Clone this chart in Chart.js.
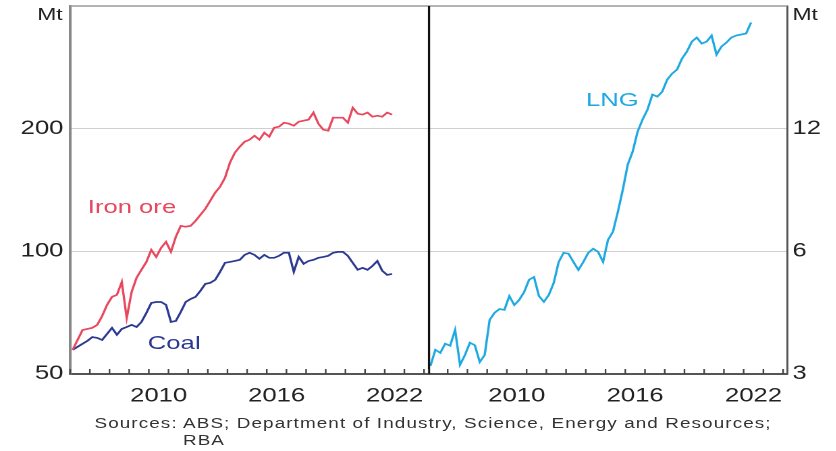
<!DOCTYPE html>
<html>
<head>
<meta charset="utf-8">
<script src="https://cdn.jsdelivr.net/npm/chart.js@4.4.0/dist/chart.umd.min.js"></script>
<style>
html, body { margin: 0; padding: 0; background: #fff; }
body { width: 836px; height: 451px; overflow: hidden; position: relative; }
/* the reference is stretched sideways, so the whole chart is too */
#wrap { position: absolute; left: 0; top: 0; width: 620px; height: 451px; transform: scaleX(1.35); transform-origin: 0 0; font-family: "Liberation Sans", Arial, sans-serif; color: #222; }
canvas { position: absolute; top: 0; }
#left { left: 0; }
#right { left: 317px; }
.lbl { position: absolute; font-size: 19px; line-height: 19px; white-space: nowrap; }
.note { position: absolute; font-size: 14px; line-height: 17px; white-space: nowrap; color: #333; letter-spacing: 0.8px; }
</style>
</head>
<body>
<div id="wrap">
  <canvas id="left" width="317" height="410"></canvas>
  <canvas id="right" width="302" height="410"></canvas>
  <div class="lbl" style="left:27.5px;top:6px;font-size:17px;line-height:17px">Mt</div>
  <div class="lbl" style="left:587px;top:6px;font-size:17px;line-height:17px">Mt</div>
  <div class="lbl" style="left:65px;top:197px;color:#e8475e">Iron ore</div>
  <div class="lbl" style="left:109.5px;top:333px;color:#2b3990">Coal</div>
  <div class="lbl" style="left:434px;top:90px;color:#1fa9e1">LNG</div>
  <div class="note" style="left:70px;top:415px">Sources: ABS; Department of Industry, Science, Energy and Resources;</div>
  <div class="note" style="left:135.5px;top:432px">RBA</div>
</div>
<script>
// Quarterly exports, Mt (log scales)
var firstQuarter = 2006.125;
var ironOre = [57.3, 60.6, 64.1, 64.5, 64.9, 66.0, 69.4, 73.9, 77.3, 78.2,
    84.1, 68.6, 79.5, 86.1, 90.1, 94.2, 100.8, 96.9, 102.0, 105.5,
    99.7, 108.6, 115.5, 114.9, 115.5, 118.8, 122.9, 127.2, 133.1, 139.3,
    144.1, 151.6, 165.0, 174.6, 180.6, 185.8, 187.9, 192.2, 187.9, 195.5,
    191.1, 201.1, 202.3, 206.9, 205.7, 203.4, 208.0, 209.2, 210.5, 219.0,
    205.7, 198.9, 197.7, 212.8, 212.8, 212.8, 206.9, 225.2, 217.7, 216.5,
    219.0, 214.0, 215.2, 214.0, 219.0, 216.5];
var coal = [57.3, 58.3, 59.3, 60.3, 61.6, 61.3, 60.6, 62.7, 64.9, 62.4,
    64.5, 65.2, 66.0, 65.2, 67.1, 70.6, 74.7, 75.1, 75.1, 73.9,
    67.1, 67.5, 71.0, 75.1, 76.4, 77.3, 80.0, 83.2, 83.7, 85.1,
    89.1, 93.7, 94.2, 94.7, 95.3, 98.0, 99.2, 98.0, 95.9, 98.0,
    96.4, 96.4, 97.5, 99.2, 99.2, 89.1, 96.9, 93.2, 94.7, 95.3,
    96.4, 96.9, 97.5, 99.2, 99.7, 99.7, 97.5, 93.7, 90.1, 91.1,
    90.1, 92.1, 94.7, 89.6, 87.5, 88.0];
var lng = [3.14, 3.44, 3.38, 3.56, 3.52, 3.85, 3.16, 3.34, 3.58, 3.53,
    3.21, 3.34, 4.07, 4.24, 4.33, 4.31, 4.66, 4.43, 4.56, 4.77,
    5.11, 5.19, 4.66, 4.51, 4.69, 5.02, 5.65, 5.95, 5.92, 5.65,
    5.40, 5.65, 5.95, 6.09, 5.98, 5.65, 6.40, 6.70, 7.50, 8.50,
    9.79, 10.54, 11.80, 12.63, 13.36, 14.55, 14.38, 14.79, 15.83, 16.38,
    16.76, 17.83, 18.56, 19.63, 20.08, 19.41, 19.63, 20.31, 18.24, 19.08,
    19.52, 20.08, 20.31, 20.43, 20.54, 21.86];
var yearLabels = [2010, 2016, 2022];
var leftTicks = [50, 100, 200];
var rightTicks = [3, 6, 12];

var quarters = [];
for (var i = 0; i < ironOre.length; i++) {
    quarters.push(firstQuarter + i * 0.25);
}
function toPoints(values) {
    return values.map(function (v, i) { return { x: quarters[i], y: v }; });
}

var FONT = { family: '"Liberation Sans", Arial, sans-serif', size: 19 };

// Top border, divider and the little year ticks that point into the panel
var framePlugin = {
    id: 'frame',
    afterDraw: function (chart, args, opts) {
        var ctx = chart.ctx;
        var area = chart.chartArea;
        var x = chart.scales.x;
        ctx.save();
        ctx.strokeStyle = '#999';
        ctx.lineWidth = 1.5;
        ctx.beginPath();
        ctx.moveTo(area.left, area.top);
        ctx.lineTo(area.right, area.top);
        ctx.stroke();
        if (opts.divider) {
            ctx.strokeStyle = '#111';
            ctx.lineWidth = 1.6;
            ctx.beginPath();
            ctx.moveTo(area.left + 0.8, area.top);
            ctx.lineTo(area.left + 0.8, area.bottom);
            ctx.stroke();
        }
        ctx.strokeStyle = '#444';
        ctx.lineWidth = 1.2;
        for (var yr = Math.ceil(x.min); yr <= x.max; yr++) {
            var px = x.getPixelForValue(yr);
            ctx.beginPath();
            ctx.moveTo(px, area.bottom);
            ctx.lineTo(px, area.bottom - 5);
            ctx.stroke();
        }
        ctx.restore();
    }
};

function xAxis() {
    return {
        type: 'linear',
        min: 2006,
        max: 2024.2,
        grid: { display: false, drawTicks: false },
        border: { display: true, color: '#555', width: 2 },
        afterBuildTicks: function (axis) {
            axis.ticks = yearLabels.map(function (v) { return { value: v }; });
        },
        afterFit: function (scale) {
            scale.height = 36;
            scale.paddingLeft = 0;
            scale.paddingRight = 0;
        },
        ticks: {
            font: FONT,
            color: '#222',
            padding: 11,
            labelOffset: 7.3,
            maxRotation: 0,
            autoSkip: false,
            callback: function (v) { return String(v); }
        }
    };
}

function yAxis(position, min, max, tickList, width) {
    return {
        type: 'logarithmic',
        position: position,
        min: min,
        max: max,
        grid: { color: '#d0d0d0', lineWidth: 1, drawTicks: false },
        border: { display: true, color: position === 'left' ? '#888' : '#555', width: position === 'left' ? 2 : 1.5 },
        afterBuildTicks: function (axis) {
            axis.ticks = tickList.map(function (v) { return { value: v }; });
        },
        afterFit: function (scale) {
            scale.width = width;
            scale.paddingTop = 0;
            scale.paddingBottom = 0;
        },
        ticks: {
            font: FONT,
            color: '#222',
            padding: position === 'left' ? 5 : 4,
            callback: function (v) { return String(v); }
        }
    };
}

function line(label, values, colour) {
    return {
        label: label,
        data: toPoints(values),
        borderColor: colour,
        borderWidth: 1.7,
        pointRadius: 0,
        tension: 0,
        fill: false
    };
}

new Chart(document.getElementById('left'), {
    type: 'line',
    data: {
        datasets: [
            line('Iron ore', ironOre, '#e8475e'),
            line('Coal', coal, '#2b3990')
        ]
    },
    options: {
        responsive: false,
        animation: false,
        devicePixelRatio: 2,
        layout: { padding: { top: 6, right: 0, left: 0, bottom: 0 } },
        plugins: { legend: { display: false }, tooltip: { enabled: false }, frame: { divider: false } },
        scales: {
            x: xAxis(),
            y: yAxis('left', 50, 400, leftTicks, 52)
        }
    },
    plugins: [framePlugin]
});

new Chart(document.getElementById('right'), {
    type: 'line',
    data: {
        datasets: [
            line('LNG', lng, '#1fa9e1')
        ]
    },
    options: {
        responsive: false,
        animation: false,
        devicePixelRatio: 2,
        layout: { padding: { top: 6, right: 0, left: 0, bottom: 0 } },
        plugins: { legend: { display: false }, tooltip: { enabled: false }, frame: { divider: true } },
        scales: {
            x: xAxis(),
            y: yAxis('right', 3, 24, rightTicks, 36)
        }
    },
    plugins: [framePlugin]
});
</script>
</body>
</html>
